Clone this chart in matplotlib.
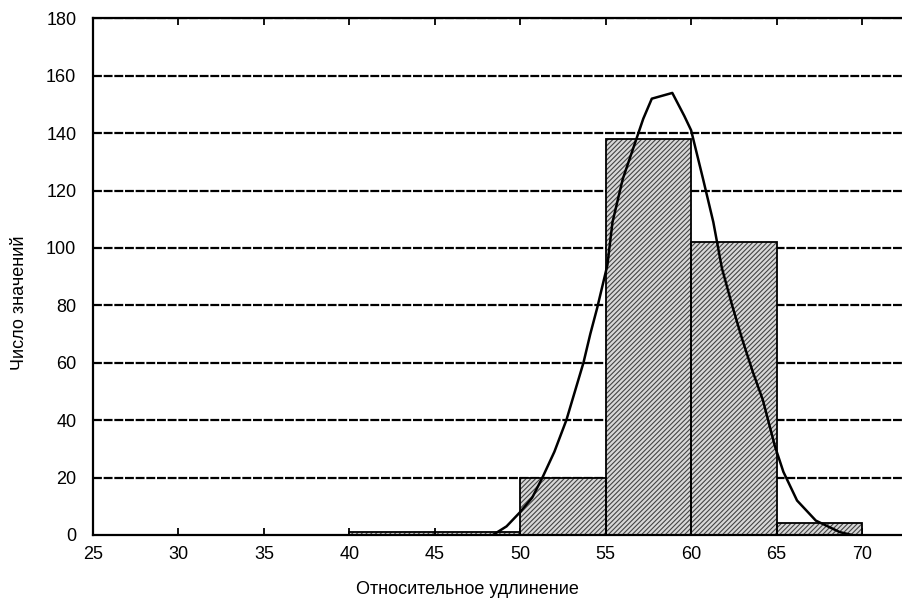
import numpy as np
import matplotlib
matplotlib.use('Agg')
import matplotlib.pyplot as plt

# histogram bins (left edges, width 5) and counts
bin_left = [40, 45, 50, 55, 60, 65]
counts = [1, 1, 20, 138, 102, 4]
bin_width = 5

# fitted curve
curve_x = [48.4, 49.2, 50.0, 50.7, 51.3, 52.0, 52.7, 53.2, 53.7, 54.1, 54.5, 55.1,
           55.4, 56.0, 56.8, 57.2, 57.7, 58.9, 59.6, 60.0, 60.7, 61.3, 61.8,
           62.4, 63.0, 63.6, 64.2, 64.9, 65.4, 66.2, 67.3, 68.7, 69.4]
curve_y = [0, 3, 8, 13, 20, 29, 40, 50, 60, 70, 79, 94,
           109, 124, 138, 145, 152, 154, 146, 141, 124, 109, 93,
           80, 68, 57, 47, 31, 22, 12, 5, 1, 0]

x_ticks = [25, 30, 35, 40, 45, 50, 55, 60, 65, 70]
y_ticks = [0, 20, 40, 60, 80, 100, 120, 140, 160, 180]

plt.rcParams['font.family'] = ['Liberation Sans Narrow', 'Liberation Sans', 'DejaVu Sans']
plt.rcParams['hatch.linewidth'] = 0.8


def main():
    fig = plt.figure(figsize=(9.03, 6.10), dpi=100)
    ax = fig.add_axes([0.103, 0.123, 0.897, 0.847])

    for y in y_ticks[1:]:
        ax.axhline(y, color='black', lw=1.6, ls=(0, (4, 0.8)), zorder=1)

    ax.bar(bin_left, counts, width=bin_width, align='edge', color='#d8d8d8',
           edgecolor='#444444', hatch='///////', lw=0, zorder=2)
    ax.bar(bin_left, counts, width=bin_width, align='edge', fill=False,
           edgecolor='black', lw=1.3, zorder=3)

    ax.plot(curve_x, curve_y, color='black', lw=1.8, zorder=4)

    ax.set_xlim(25, 72.4)
    ax.set_ylim(0, 180)
    ax.set_xticks(x_ticks)
    ax.set_yticks(y_ticks)
    ax.tick_params(axis='x', direction='in', top=True, length=5, width=1.3,
                   labelsize=13, pad=8)
    ax.tick_params(axis='y', length=0, labelsize=13, pad=12)
    ax.spines['right'].set_visible(False)
    for s in ['left', 'top', 'bottom']:
        ax.spines[s].set_linewidth(1.6)

    fig.text(0.518, 0.02, 'Относительное удлинение', ha='center', va='bottom', fontsize=13)
    fig.text(0.022, 0.503, 'Число значений', ha='center', va='center',
             rotation=90, fontsize=13)

    fig.savefig('out.png', dpi=100)


if __name__ == '__main__':
    main()
